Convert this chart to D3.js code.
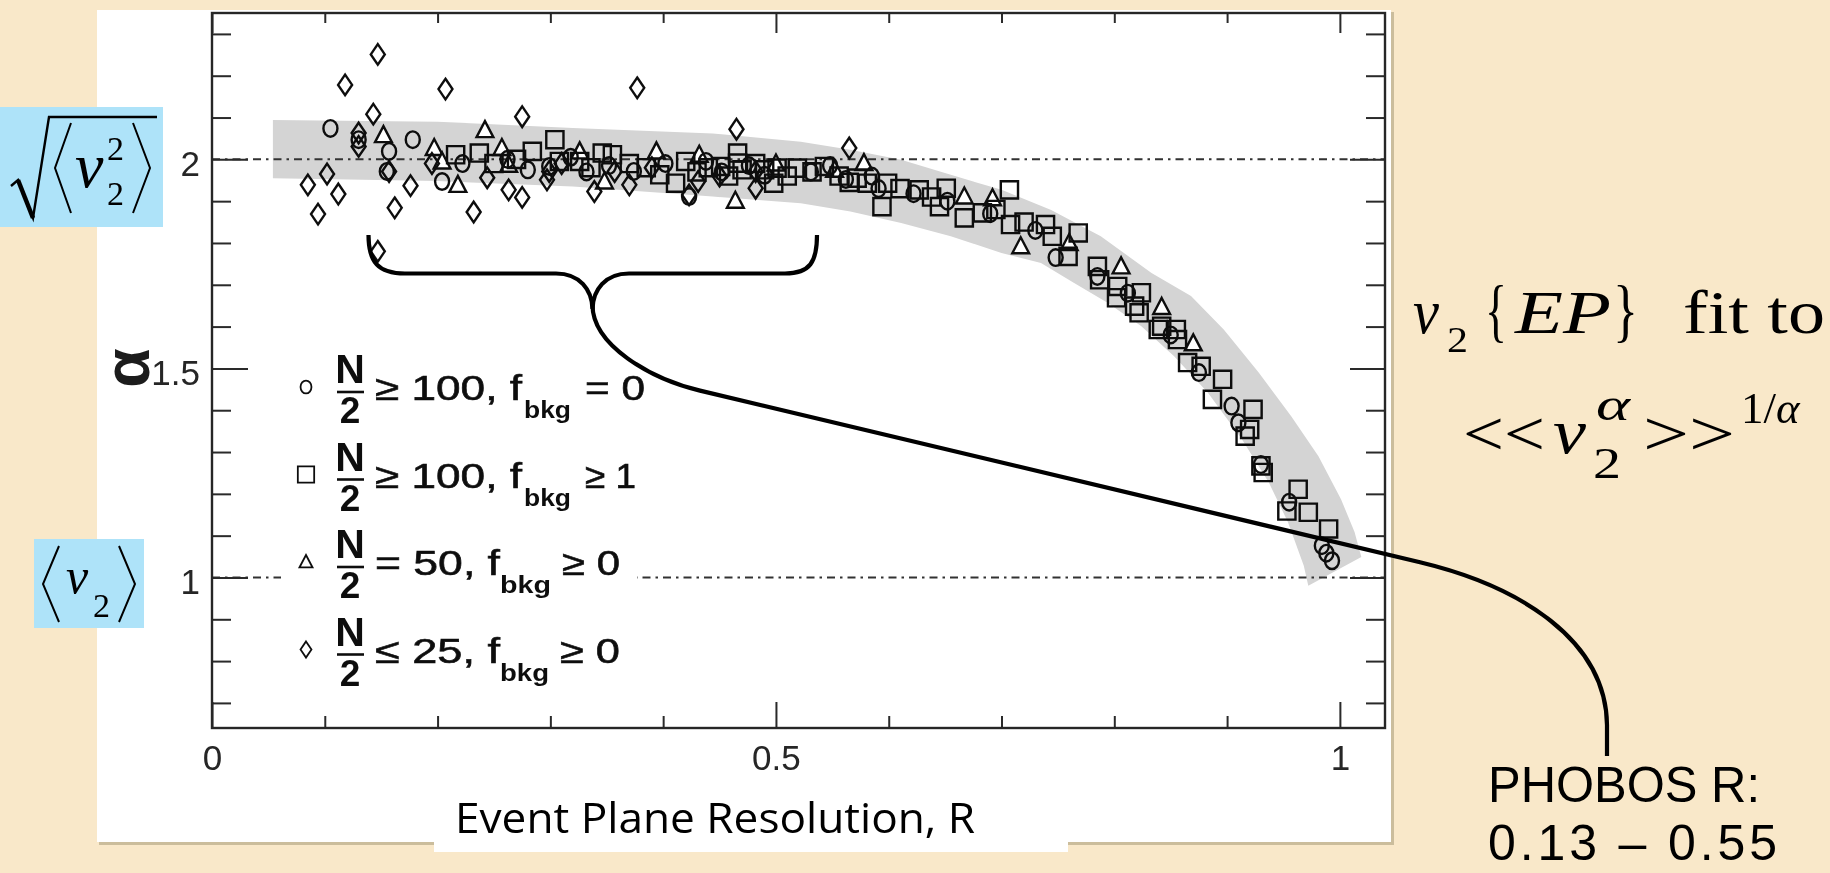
<!DOCTYPE html>
<html>
<head>
<meta charset="utf-8">
<script src="https://cdn.jsdelivr.net/npm/d3@7"></script>
<style>
  html, body { margin: 0; padding: 0; background: #f9e8c9; overflow: hidden; }
</style>
</head>
<body>
<svg id="chart" width="1830" height="873"></svg>
<script>
// ---- Data -------------------------------------------------------------
// Fitted exponent alpha versus event plane resolution R, four simulation classes.
const circleSeries = [ // N/2 >= 100, f_bkg = 0
  [0.105,2.074],[0.130,2.047],[0.155,1.971],[0.157,2.019],[0.178,2.047],[0.204,1.947],
  [0.222,1.990],[0.262,2.000],[0.280,1.975],[0.299,1.983],[0.318,2.005],[0.332,1.970],
  [0.352,1.985],[0.374,1.971],[0.402,1.990],[0.423,1.911],[0.438,1.995],[0.452,1.970],
  [0.476,1.985],[0.490,1.962],[0.531,1.970],[0.548,1.985],[0.562,1.952],[0.585,1.960],
  [0.591,1.930],[0.622,1.918],[0.652,1.900],[0.690,1.870],[0.730,1.830],[0.748,1.765],
  [0.785,1.720],[0.812,1.680],[0.850,1.580],[0.875,1.490],[0.904,1.410],[0.910,1.370],
  [0.930,1.270],[0.955,1.180],[0.984,1.076],[0.988,1.058],[0.993,1.040]
];
const squareSeries = [ // N/2 >= 100, f_bkg >= 1
  [0.216,2.011],[0.237,2.015],[0.250,1.990],[0.270,2.000],[0.284,2.019],[0.304,2.047],
  [0.308,1.995],[0.326,1.995],[0.336,1.980],[0.346,2.015],[0.355,2.011],[0.370,1.990],
  [0.385,1.980],[0.397,1.963],[0.411,1.943],[0.420,1.995],[0.430,1.970],[0.440,1.980],
  [0.451,1.983],[0.458,1.960],[0.466,1.991],[0.466,2.015],[0.470,1.975],[0.482,1.990],
  [0.490,1.975],[0.498,1.943],[0.501,1.979],[0.510,1.960],[0.519,1.979],[0.532,1.970],
  [0.543,1.983],[0.556,1.960],[0.565,1.945],[0.572,1.955],[0.581,1.943],[0.594,1.887],
  [0.599,1.943],[0.610,1.930],[0.627,1.927],[0.638,1.910],[0.645,1.887],[0.651,1.931],
  [0.667,1.860],[0.683,1.872],[0.695,1.880],[0.707,1.927],[0.708,1.844],[0.720,1.850],
  [0.739,1.844],[0.745,1.816],[0.759,1.768],[0.768,1.824],[0.785,1.744],[0.787,1.712],
  [0.803,1.696],[0.802,1.669],[0.818,1.649],[0.824,1.681],[0.822,1.633],[0.839,1.593],
  [0.842,1.601],[0.855,1.593],[0.856,1.569],[0.865,1.514],[0.877,1.505],[0.887,1.426],
  [0.896,1.474],[0.916,1.338],[0.920,1.354],[0.923,1.402],[0.930,1.267],[0.932,1.251],
  [0.953,1.159],[0.963,1.211],[0.972,1.156],[0.990,1.116]
];
const triangleSeries = [ // N/2 = 50, f_bkg >= 0
  [0.152,2.058],[0.197,2.027],[0.204,1.995],[0.218,1.939],[0.242,2.070],[0.257,2.027],
  [0.263,1.987],[0.326,2.019],[0.348,1.947],[0.394,2.019],[0.432,2.011],[0.464,1.901],
  [0.500,1.990],[0.552,1.975],[0.578,1.991],[0.667,1.911],[0.692,1.907],[0.717,1.792],
  [0.760,1.800],[0.806,1.744],[0.842,1.647],[0.870,1.560]
];
const diamondSeries = [ // N/2 <= 25, f_bkg >= 0
  [0.085,1.939],[0.094,1.869],[0.102,1.965],[0.112,1.917],[0.118,2.178],[0.130,2.063],
  [0.130,2.031],[0.143,2.108],[0.147,2.251],[0.147,1.780],[0.157,1.971],[0.162,1.884],
  [0.176,1.937],[0.195,1.990],[0.207,2.168],[0.232,1.874],[0.244,1.956],[0.263,1.927],
  [0.275,2.102],[0.275,1.909],[0.297,1.951],[0.299,1.971],[0.310,1.990],[0.339,1.923],
  [0.357,1.971],[0.370,1.939],[0.377,2.171],[0.390,1.980],[0.423,1.915],[0.431,1.947],
  [0.450,1.960],[0.465,2.072],[0.482,1.931],[0.482,1.971],[0.565,2.027]
];

// Systematic band around the trend: upper and lower edges as [R, alpha]
const bandUpper = [
  [0.054,2.094],[0.200,2.090],[0.320,2.075],[0.444,2.062],[0.522,2.042],[0.566,2.023],
  [0.611,1.999],[0.655,1.963],[0.700,1.927],[0.744,1.879],[0.788,1.816],[0.833,1.728],
  [0.868,1.673],[0.897,1.593],[0.928,1.490],[0.957,1.385],[0.981,1.290],[1.001,1.187],
  [1.013,1.109],[1.019,1.049]
];
const bandLower = [
  [0.054,1.955],[0.200,1.948],[0.320,1.935],[0.444,1.911],[0.522,1.895],[0.566,1.875],
  [0.611,1.848],[0.655,1.816],[0.700,1.776],[0.735,1.752],[0.764,1.705],[0.794,1.657],
  [0.824,1.601],[0.853,1.529],[0.883,1.442],[0.913,1.331],[0.937,1.227],[0.954,1.132],
  [0.968,1.028],[0.972,0.980]
];

// Axis ticks and labels
const xTicksMajor = [0, 0.5, 1];
const xTickLabels = ["0", "0.5", "1"];
const xTicksMinor = [0.1, 0.2, 0.3, 0.4, 0.6, 0.7, 0.8, 0.9];
const yTicksMajor = [1, 1.5, 2];
const yTickLabels = ["1", "1.5", "2"];
const yTicksMinor = [0.7, 0.8, 0.9, 1.1, 1.2, 1.3, 1.4, 1.6, 1.7, 1.8, 1.9, 2.1, 2.2, 2.3];
const refLines = [2, 1];

// Legend entries
const legendSymbols = ["circle", "square", "triangle", "diamond"];
const legendMult = ["\u2265 100, f", "\u2265 100, f", "= 50, f", "\u2264 25, f"];
const legendBkg = ["= 0", "\u2265 1", "\u2265 0", "\u2265 0"];

// ---- Drawing ------------------------------------------------------------
const W = 1830, H = 873;
const svg = d3.select("#chart");
const defs = svg.append("defs");
defs.append("filter").attr("id", "soft")
  .attr("x", "-5%").attr("y", "-5%").attr("width", "110%").attr("height", "110%")
  .append("feGaussianBlur").attr("stdDeviation", 0.65);

svg.append("rect").attr("width", W).attr("height", H).attr("fill", "#f9e8c9");

// white sheet holding the figure, with a thin shadow
svg.append("rect").attr("x", 99).attr("y", 12).attr("width", 1295).attr("height", 833).attr("fill", "#cbbd9c");
svg.append("rect").attr("x", 97).attr("y", 10).attr("width", 1294).attr("height", 832).attr("fill", "#ffffff");
svg.append("rect").attr("x", 434).attr("y", 790).attr("width", 634).attr("height", 62).attr("fill", "#ffffff");

const x = d3.scaleLinear().domain([0, 1.04]).range([212, 1385]);
const y = d3.scaleLinear().domain([0.64, 2.35]).range([728, 13]);

const plot = svg.append("g").attr("filter", "url(#soft)");

// band
const bandPts = bandUpper.map(d => [x(d[0]), y(d[1])])
  .concat(bandLower.slice().reverse().map(d => [x(d[0]), y(d[1])]));
plot.append("path").attr("d", d3.line()(bandPts) + "Z").attr("fill", "#d4d4d4");

// dash-dot reference lines
plot.selectAll("line.ref").data(refLines).join("line")
  .attr("class", "ref")
  .attr("x1", x(0)).attr("x2", x(1.04))
  .attr("y1", d => y(d)).attr("y2", d => y(d))
  .attr("stroke", "#333").attr("stroke-width", 2)
  .attr("stroke-dasharray", "8,5,2.5,5");

// axes
const tickFont = "'Liberation Sans', Arial, Helvetica, sans-serif";
function styleAxis(g) {
  g.select(".domain").remove();
  g.selectAll(".tick line").attr("stroke", "#2a2a2a").attr("stroke-width", 2);
  g.selectAll(".tick text").attr("font-family", tickFont).attr("font-size", 35).attr("fill", "#262626");
}
const none = () => "";
plot.append("g").attr("transform", `translate(0,${y(0.64)})`)
  .call(d3.axisBottom(x).tickValues(xTicksMajor).tickFormat((d, i) => xTickLabels[i])
    .tickSizeInner(-26).tickSizeOuter(0).tickPadding(17)).call(styleAxis);
plot.append("g").attr("transform", `translate(0,${y(0.64)})`)
  .call(d3.axisBottom(x).tickValues(xTicksMinor).tickFormat(none).tickSizeInner(-12).tickSizeOuter(0)).call(styleAxis);
plot.append("g").attr("transform", `translate(0,${y(2.35)})`)
  .call(d3.axisTop(x).tickValues(xTicksMajor).tickFormat(none).tickSizeInner(-20).tickSizeOuter(0)).call(styleAxis);
plot.append("g").attr("transform", `translate(0,${y(2.35)})`)
  .call(d3.axisTop(x).tickValues(xTicksMinor).tickFormat(none).tickSizeInner(-10).tickSizeOuter(0)).call(styleAxis);
const leftAxis = plot.append("g").attr("transform", `translate(${x(0)},0)`)
  .call(d3.axisLeft(y).tickValues(yTicksMajor).tickFormat((d, i) => yTickLabels[i])
    .tickSizeInner(-36).tickSizeOuter(0).tickPadding(12)).call(styleAxis);
leftAxis.selectAll(".tick text").attr("dy", "0.45em");
plot.append("g").attr("transform", `translate(${x(0)},0)`)
  .call(d3.axisLeft(y).tickValues(yTicksMinor).tickFormat(none).tickSizeInner(-19).tickSizeOuter(0)).call(styleAxis);
plot.append("g").attr("transform", `translate(${x(1.04)},0)`)
  .call(d3.axisRight(y).tickValues(yTicksMajor).tickFormat(none).tickSizeInner(-35).tickSizeOuter(0)).call(styleAxis);
plot.append("g").attr("transform", `translate(${x(1.04)},0)`)
  .call(d3.axisRight(y).tickValues(yTicksMinor).tickFormat(none).tickSizeInner(-19).tickSizeOuter(0)).call(styleAxis);

// frame
plot.append("rect")
  .attr("x", x(0)).attr("y", y(2.35))
  .attr("width", x(1.04) - x(0)).attr("height", y(0.64) - y(2.35))
  .attr("fill", "none").attr("stroke", "#262626").attr("stroke-width", 2.4);

// rotated alpha axis title
plot.append("text")
  .attr("transform", "translate(127,368) rotate(-90)")
  .attr("text-anchor", "middle").attr("dominant-baseline", "central")
  .attr("font-family", tickFont).attr("font-weight", "bold").attr("font-size", 64)
  .attr("fill", "#1a1a1a").text("\u03b1");

// marker shapes
function markerPath(kind, k) {
  if (kind === "circle") {
    const rx = 7 * k, ry = 8.3 * k;
    return `M${-rx},0A${rx},${ry} 0 1,0 ${rx},0A${rx},${ry} 0 1,0 ${-rx},0Z`;
  }
  if (kind === "square") {
    const h = 8.6 * k;
    return `M${-h},${-h}H${h}V${h}H${-h}Z`;
  }
  if (kind === "triangle") {
    const w = 8.4 * k, t = 9 * k, b = 7 * k;
    return `M0,${-t}L${w},${b}H${-w}Z`;
  }
  const w = 7 * k, h = 10.3 * k;
  return `M0,${-h}L${w},0L0,${h}L${-w},0Z`;
}

const seriesList = [
  { kind: "triangle", data: triangleSeries, fill: "#ffffff" },
  { kind: "diamond", data: diamondSeries, fill: "none" },
  { kind: "circle", data: circleSeries, fill: "none" },
  { kind: "square", data: squareSeries, fill: "none" }
];
seriesList.forEach(s => {
  plot.append("g").selectAll("path").data(s.data).join("path")
    .attr("transform", d => `translate(${x(d[0])},${y(d[1])})`)
    .attr("d", markerPath(s.kind, 1))
    .attr("fill", s.fill).attr("stroke", "#0d0d0d").attr("stroke-width", 2.4);
});

// legend
const legend = plot.append("g");
legend.append("rect").attr("x", 281).attr("y", 338).attr("width", 356).attr("height", 360).attr("fill", "#ffffff");
const rowY = [387, 474.5, 562, 649.5];
const multX = [375, 375, 375, 375], multW = [147, 147, 125, 125];
const bkgX = [524, 524, 500, 500], bkgW = [47, 47, 51, 49];
const relX = [585, 585, 562, 560], relW = [60, 51, 58, 60];
legendSymbols.forEach((sym, i) => {
  const cy = rowY[i];
  const row = legend.append("g").attr("fill", "#111").attr("font-family", tickFont);
  row.append("path").attr("transform", `translate(306,${cy})`)
    .attr("d", markerPath(sym, sym === "square" ? 0.95 : 0.78))
    .attr("fill", "none").attr("stroke", "#111").attr("stroke-width", 1.8);
  row.append("text").attr("x", 350).attr("y", cy - 4).attr("text-anchor", "middle")
    .attr("font-weight", "bold").attr("font-size", 41).text("N");
  row.append("line").attr("x1", 337).attr("x2", 364).attr("y1", cy + 5).attr("y2", cy + 5)
    .attr("stroke", "#111").attr("stroke-width", 2.6);
  row.append("text").attr("x", 350).attr("y", cy + 36).attr("text-anchor", "middle")
    .attr("font-weight", "bold").attr("font-size", 37).text("2");
  row.append("text").attr("x", multX[i]).attr("y", cy + 13).attr("font-size", 35)
    .attr("textLength", multW[i]).attr("lengthAdjust", "spacingAndGlyphs")
    .attr("stroke", "#111").attr("stroke-width", 0.6).text(legendMult[i]);
  row.append("text").attr("x", bkgX[i]).attr("y", cy + 31).attr("font-size", 24)
    .attr("font-weight", "bold")
    .attr("textLength", bkgW[i]).attr("lengthAdjust", "spacingAndGlyphs").text("bkg");
  row.append("text").attr("x", relX[i]).attr("y", cy + 13).attr("font-size", 35)
    .attr("textLength", relW[i]).attr("lengthAdjust", "spacingAndGlyphs")
    .attr("stroke", "#111").attr("stroke-width", 0.6).text(legendBkg[i]);
});

// ---- Annotations ------------------------------------------------------
const serif = "'Liberation Serif', 'Times New Roman', serif";
const sans = "'Open Sans', 'Noto Sans', sans-serif";
const notes = svg.append("g");

notes.append("text").attr("x", 455).attr("y", 833)
  .attr("font-family", sans).attr("font-size", 42).attr("fill", "#000")
  .attr("textLength", 520).attr("lengthAdjust", "spacingAndGlyphs")
  .text("Event Plane Resolution, R");

// curly brace over R = 0.13 - 0.55 and the connector to the label
notes.append("path")
  .attr("d", "M368.5,235 C368.5,262 378,273.5 405,273.5 L556,273.5 C580,273.5 592,290 592.5,309 " +
             "C593,290 605,273.5 629,273.5 L785,273.5 C810,273.5 817,262 817,235")
  .attr("fill", "none").attr("stroke", "#000").attr("stroke-width", 4.2);
notes.append("path")
  .attr("d", "M592.5,305 C592.5,345 650,378.7 700,390.6 L1420,562.3 C1520,586.2 1606,640 1607,725 L1607,756")
  .attr("fill", "none").attr("stroke", "#000").attr("stroke-width", 4.2);

// blue boxes: sqrt<v2^2> and <v2>
const boxBlue = "#aee3f9";
notes.append("rect").attr("x", 0).attr("y", 107).attr("width", 163).attr("height", 120).attr("fill", boxBlue);
notes.append("path").attr("d", "M11,186 L18,180 L33,218 L49,117 L157,117")
  .attr("fill", "none").attr("stroke", "#000").attr("stroke-width", 2.4).attr("stroke-linejoin", "miter");
notes.append("path").attr("d", "M18,180 L33,218").attr("stroke", "#000").attr("stroke-width", 4.5);
notes.append("path").attr("d", "M71,123 L55,168 L71,213 M133,123 L150,168 L133,213")
  .attr("fill", "none").attr("stroke", "#000").attr("stroke-width", 2);
const rootText = notes.append("text").attr("font-family", serif).attr("fill", "#000");
rootText.append("tspan").attr("x", 75).attr("y", 187).attr("font-style", "italic").attr("font-size", 64).text("v");
rootText.append("tspan").attr("x", 107).attr("y", 160).attr("font-size", 34).text("2");
rootText.append("tspan").attr("x", 107).attr("y", 205).attr("font-size", 34).text("2");

notes.append("rect").attr("x", 34).attr("y", 539).attr("width", 110).attr("height", 89).attr("fill", boxBlue);
notes.append("path").attr("d", "M59,546 L43,584 L59,622 M119,546 L135,584 L119,622")
  .attr("fill", "none").attr("stroke", "#000").attr("stroke-width", 2);
const meanText = notes.append("text").attr("font-family", serif).attr("fill", "#000");
meanText.append("tspan").attr("x", 66).attr("y", 593).attr("font-style", "italic").attr("font-size", 50).text("v");
meanText.append("tspan").attr("x", 93).attr("y", 617).attr("font-size", 34).text("2");

// fit formula text, each piece fitted to its own width
function serifText(txt, xx, yy, size, italic, len) {
  const t = notes.append("text").attr("x", xx).attr("y", yy)
    .attr("font-family", serif).attr("font-size", size).attr("fill", "#000")
    .attr("font-style", italic ? "italic" : "normal").text(txt);
  if (len) t.attr("textLength", len).attr("lengthAdjust", "spacingAndGlyphs");
  return t;
}
serifText("v", 1413, 333, 64, true, 26);
serifText("2", 1447, 352, 35, false, 21);
serifText("{", 1485, 334, 70, false, 22);
serifText("EP", 1515, 333, 62, true, 96);
serifText("}", 1613, 334, 70, false, 25);
serifText("fit to", 1683, 333, 62, false, 142);

serifText("<<", 1463, 455, 64, false, 82);
serifText("v", 1553, 453, 64, true, 33);
serifText("\u03b1", 1596, 420, 47, true, 34);
serifText("2", 1593, 478, 44, false, 28);
serifText(">>", 1643, 455, 64, false, 92);
const pow = serifText("", 1741, 423, 45, false, null);
pow.append("tspan").text("1/");
pow.append("tspan").attr("font-style", "italic").text("\u03b1");

// label for the brace
const labelFont = "'Liberation Sans', Arial, sans-serif";
notes.append("text").attr("x", 1488).attr("y", 802)
  .attr("font-family", labelFont).attr("font-size", 50).attr("fill", "#000")
  .attr("textLength", 272).attr("lengthAdjust", "spacingAndGlyphs").text("PHOBOS R:");
notes.append("text").attr("x", 1488).attr("y", 860)
  .attr("font-family", labelFont).attr("font-size", 50).attr("fill", "#000")
  .attr("textLength", 289).attr("lengthAdjust", "spacing").text("0.13 \u2013 0.55");
</script>
</body>
</html>
